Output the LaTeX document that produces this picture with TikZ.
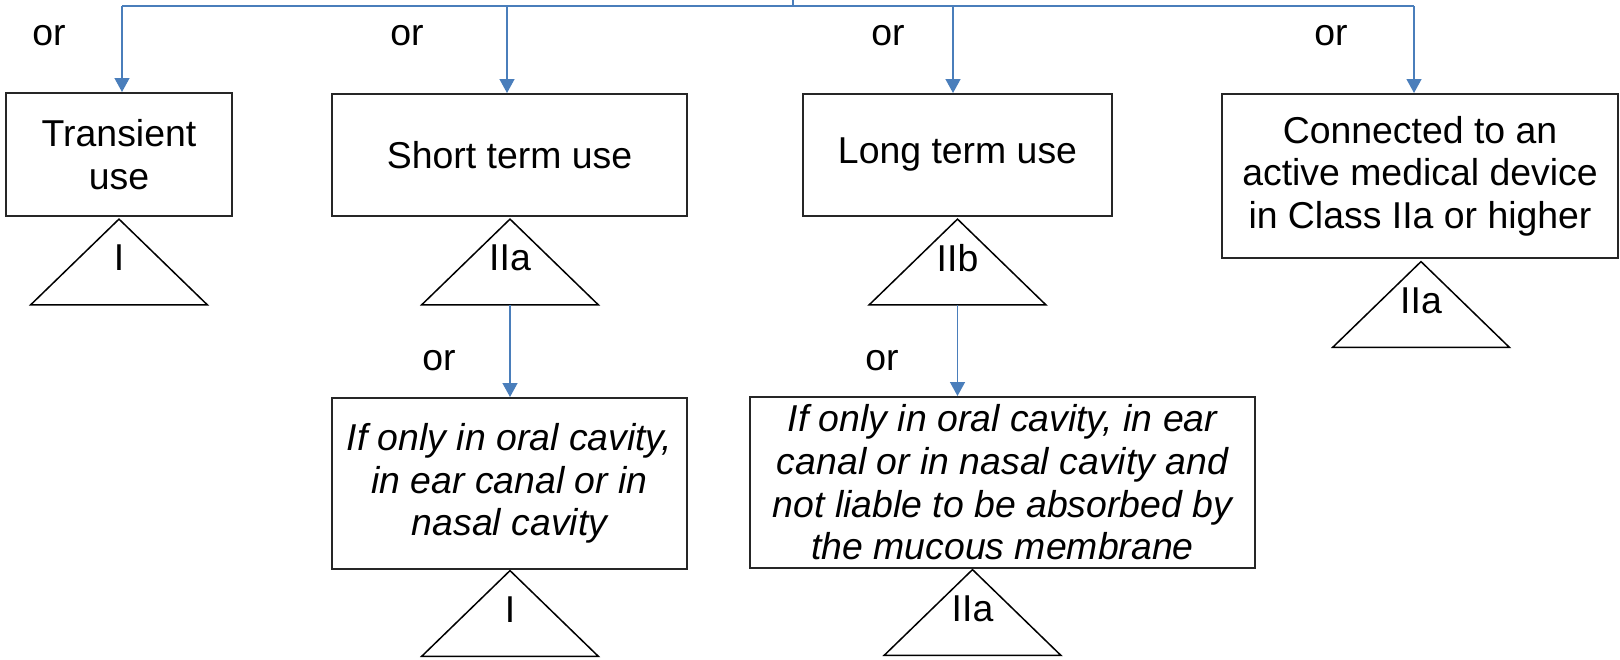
\documentclass[tikz,border=0pt]{standalone}
\usepackage{fontspec}
\setmainfont{Liberation Sans}
\usetikzlibrary{arrows.meta}
\definecolor{linkblue}{RGB}{74,126,187}
\begin{document}
\begin{tikzpicture}[x=0.5pt,y=-0.5pt,
  txt/.style={font=\fontsize{18.7}{21.3}\selectfont},
  box/.style={txt, draw=black!85, line width=1pt, inner sep=0pt, align=center},
  orlabel/.style={txt, inner sep=0pt},
  classslot/.style={draw=none, inner sep=0pt, minimum width=88pt, minimum height=42.5pt},
  classlabel/.style={txt, inner sep=0pt},
  tri/.style={draw=black, line width=0.75pt, line join=miter},
  link/.style={draw=linkblue, line width=0.7pt},
  linkarrow/.style={link, -{Triangle[length=7pt,width=7.5pt]}, fill=linkblue}
]
\useasboundingbox (0,0) rectangle (1620,659);

% first row of decision boxes
\node[box, minimum width=113pt, minimum height=61.5pt] (box1) at (119,154.5) {Transient\\use};
\node[box, minimum width=177.5pt, minimum height=61pt] (box2) at (509.5,155) {Short term use};
\node[box, minimum width=154.5pt, minimum height=61pt] (box3) at (957.5,155) {Long term use};
\node[box, minimum width=198pt, minimum height=82pt] (box4) at (1420,176)
  {Connected to an\\active medical device\\in Class IIa or higher};

% second row (special cases)
\node[box, font=\fontsize{18.7}{21.3}\selectfont\itshape, minimum width=177.5pt, minimum height=85.5pt] (box5) at (509.5,483.5)
  {If only in oral cavity,\\in ear canal or in\\nasal cavity};
\node[box, font=\fontsize{18.7}{21.3}\selectfont\itshape, minimum width=252.5pt, minimum height=85.5pt] (box6) at (1002.5,482.5)
  {If only in oral cavity, in ear\\canal or in nasal cavity and\\not liable to be absorbed by\\the mucous membrane};

% class triangles
\node[classslot] (t1) at (119,262) {};
\node[classslot] (t2) at (510,262) {};
\node[classslot] (t3) at (957.5,262) {};
\node[classslot] (t4) at (1421,304.5) {};
\node[classslot] (t5) at (510,613.5) {};
\node[classslot] (t6) at (972.5,612.5) {};
\foreach \t in {t1,t2,t3,t4,t5,t6}
  \draw[tri] (\t.south west) -- (\t.north) -- (\t.south east) -- cycle;
\node[classlabel] (c1) at ([yshift=2pt]t1.center) {I};
\node[classlabel] (c2) at ([yshift=2pt]t2.center) {IIa};
\node[classlabel] (c3) at ([yshift=2pt]t3.center) {IIb};
\node[classlabel] (c4) at ([yshift=2pt]t4.center) {IIa};
\node[classlabel] (c5) at ([yshift=2pt]t5.center) {I};
\node[classlabel] (c6) at ([yshift=2pt]t6.center) {IIa};

% distribution bus
\coordinate (feed) at (793,0);
\coordinate (bus1) at (122,6);
\coordinate (bus2) at (507,6);
\coordinate (bus3) at (953,6);
\coordinate (bus4) at (1414,6);
\draw[link] (feed) -- (feed |- bus1);
\draw[link] (bus1) -- (bus4);
\draw[linkarrow] (bus1) -- (bus1 |- box1.north);
\draw[linkarrow] (bus2) -- (bus2 |- box2.north);
\draw[linkarrow] (bus3) -- (bus3 |- box3.north);
\draw[linkarrow] (bus4) -- (bus4 |- box4.north);
\draw[linkarrow] (t2.south) -- (t2.south |- box5.north);
\draw[linkarrow] (t3.south) -- (t3.south |- box6.north);

% "or" labels
\node[orlabel] (or1) at (49,36) {or};
\node[orlabel] (or2) at (407,36) {or};
\node[orlabel] (or3) at (888,36) {or};
\node[orlabel] (or4) at (1331,36) {or};
\node[orlabel] (or5) at (439,361) {or};
\node[orlabel] (or6) at (882,361) {or};
\end{tikzpicture}
\end{document}
